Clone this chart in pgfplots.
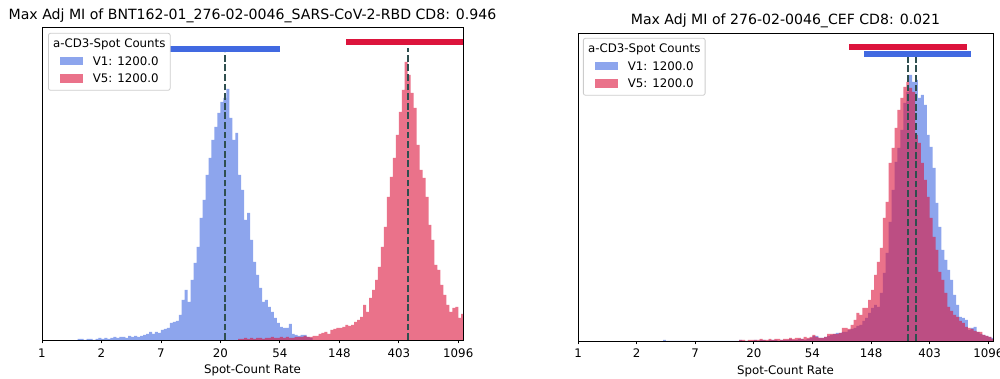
\documentclass[border=0pt]{standalone}
\usepackage{pgfplots}
\pgfplotsset{compat=1.18}
\usepackage{fontspec}
\setmainfont{DejaVu Sans}
\definecolor{royalblue}{RGB}{65,105,225}
\definecolor{crimson}{RGB}{220,20,60}
\definecolor{dslate}{RGB}{47,79,79}
\definecolor{bluepatch}{RGB}{141,165,237}
\definecolor{redpatch}{RGB}{234,114,138}

\pgfplotstableread{
L h
0.60 1
0.65 1
0.70 0
0.75 1
0.80 1
0.85 0
0.90 1
0.95 2
1.00 1
1.05 2
1.10 1
1.15 2
1.20 3
1.25 2
1.30 3
1.35 3
1.40 2
1.45 4
1.50 3
1.55 4
1.60 3
1.65 4
1.70 5
1.75 6
1.80 8
1.85 6
1.90 8
1.95 7
2.00 10
2.05 11
2.10 12
2.15 17
2.20 18
2.25 19
2.30 25
2.35 40
2.40 50
2.45 38
2.50 60
2.55 77
2.60 93
2.65 122
2.70 140
2.75 165
2.80 182
2.85 200
2.90 213
2.95 227
3.00 238
3.05 242
3.10 251
3.15 222
3.20 200
3.25 207
3.30 165
3.35 150
3.40 120
3.45 127
3.50 100
3.55 78
3.60 65
3.65 52
3.70 38
3.75 40
3.80 33
3.85 28
3.90 22
3.95 17
4.00 13
4.05 12
4.10 12
4.15 16
4.20 6
4.25 5
4.30 4
4.35 5
4.40 5
4.45 3
4.50 2
4.55 0
}\leftVone

\pgfplotstableread{
L h
3.30 1
3.35 1
3.40 2
3.45 1
3.50 2
3.55 1
3.60 2
3.65 2
3.70 1
3.75 2
3.80 2
3.85 3
3.90 2
3.95 2
4.00 3
4.05 2
4.10 3
4.15 2
4.20 2
4.25 3
4.30 3
4.35 3
4.40 4
4.45 3
4.50 3
4.55 4
4.60 4
4.65 6
4.70 7
4.75 8
4.80 6
4.85 10
4.90 11
4.95 12
5.00 12
5.05 13
5.10 15
5.15 14
5.20 15
5.25 18
5.30 20
5.35 23
5.40 35
5.45 28
5.50 42
5.55 50
5.60 60
5.65 73
5.70 93
5.75 113
5.80 143
5.85 163
5.90 182
5.95 205
6.00 228
6.05 250
6.10 278
6.15 265
6.20 247
6.25 232
6.30 195
6.35 170
6.40 162
6.45 143
6.50 115
6.55 100
6.60 75
6.65 70
6.70 55
6.75 45
6.80 35
6.85 28
6.90 32
6.95 33
7.00 22
7.05 26
7.10 0
}\leftVfive

\pgfplotstableread{
L h
1.45 1
1.50 0
2.75 1
2.80 0
3.00 1
3.05 0
3.10 1
3.15 1
3.20 0
3.25 1
3.30 1
3.35 1
3.40 0
3.45 1
3.50 1
3.55 1
3.60 2
3.65 1
3.70 1
3.75 2
3.80 2
3.85 1
3.90 2
3.95 3
4.00 5
4.05 5
4.10 3
4.15 3
4.20 4
4.25 5
4.30 6
4.35 7
4.40 8
4.45 8
4.50 9
4.55 9
4.60 11
4.65 12
4.70 13
4.75 15
4.80 16
4.85 20
4.90 23
4.95 28
5.00 33
5.05 36
5.10 34
5.15 48
5.20 68
5.25 88
5.30 119
5.35 151
5.40 179
5.45 193
5.50 211
5.55 238
5.60 249
5.65 266
5.70 259
5.75 261
5.80 243
5.85 246
5.90 236
5.95 206
6.00 194
6.05 173
6.10 138
6.15 114
6.20 91
6.25 81
6.30 71
6.35 61
6.40 46
6.45 36
6.50 24
6.55 23
6.60 21
6.65 11
6.70 13
6.75 14
6.80 9
6.85 7
6.90 6
6.95 5
7.00 4
7.05 3
7.10 0
}\rightVone

\pgfplotstableread{
L h
2.75 1
2.80 1
2.85 0
2.90 1
2.95 1
3.00 1
3.05 1
3.10 2
3.15 1
3.20 1
3.25 2
3.30 1
3.35 2
3.40 2
3.45 1
3.50 2
3.55 2
3.60 3
3.65 2
3.70 3
3.75 3
3.80 2
3.85 4
3.90 3
3.95 4
4.00 6
4.05 4
4.10 3
4.15 3
4.20 4
4.25 7
4.30 7
4.35 7
4.40 7
4.45 8
4.50 13
4.55 13
4.60 12
4.65 16
4.70 21
4.75 28
4.80 26
4.85 33
4.90 33
4.95 41
5.00 51
5.05 66
5.10 79
5.15 93
5.20 123
5.25 139
5.30 178
5.35 193
5.40 213
5.45 231
5.50 243
5.55 254
5.60 259
5.65 253
5.70 249
5.75 206
5.80 198
5.85 178
5.90 161
5.95 144
6.00 123
6.05 104
6.10 91
6.15 69
6.20 61
6.25 48
6.30 34
6.35 30
6.40 26
6.45 24
6.50 20
6.55 18
6.60 14
6.65 13
6.70 12
6.75 10
6.80 9
6.85 9
6.90 6
6.95 5
7.00 4
7.05 2
7.10 0
}\rightVfive

\pgfplotsset{
  panel/.style={
    scale only axis, axis on top, anchor=south west,
    xmin=0, xmax=7.08, ymin=0,
    xtick={0,1,2,3,4,5,6,7},
    xticklabels={1,2,7,20,54,148,403,1096},
    ytick=\empty, tick align=outside, xtick pos=left,
    major tick length=3.5pt,
    every tick/.style={black, line width=0.8pt},
    axis line style={black, line width=0.8pt},
    tick label style={font=\fontsize{11.8}{14}\selectfont},
    label style={font=\fontsize{11.8}{14}\selectfont},
    title style={font=\fontsize{14.1}{17}\selectfont, at={(axis description cs:0.5,1)}, anchor=base},
    xlabel={Spot-Count Rate},
    xlabel style={at={(axis description cs:0.5,0)}, anchor=base, yshift=-34pt},
  },
  hist/.style={const plot mark left, draw=none, fill opacity=0.6},
  med/.style={dslate, line width=1.8pt, dash pattern=on 6.7pt off 2.9pt},
  ci/.style={line width=6pt},
}
\tikzset{
  leg/.style={anchor=north west, draw=black!20, fill=white, rounded corners=2pt,
    line width=0.8pt, inner xsep=4.7pt, inner ysep=2.2pt,
    font=\fontsize{11.8}{17.5}\selectfont},
}
\newcommand{\legbody}{%
  \begin{tabular}{@{}c@{}}a-CD3-Spot Counts\\
  \begin{tabular}[t]{@{}l@{\hspace{10pt}}l@{}}
  \textcolor{bluepatch}{\rule[0.2pt]{23pt}{8.5pt}} & V1: 1200.0\\
  \textcolor{redpatch}{\rule[0.2pt]{23pt}{8.5pt}} & V5: 1200.0
  \end{tabular}\end{tabular}}

\begin{document}
\begin{tikzpicture}
\path[use as bounding box] (0,0) rectangle (1000pt,379pt);

\begin{axis}[panel, at={(42pt,39pt)}, width=421pt, height=313pt, ymax=313,
  title={Max Adj MI of BNT162-01\_276-02-0046\_SARS-CoV-2-RBD CD8: 0.946},
  title style={yshift=1.3pt},
  xticklabel style={anchor=base, yshift=-14pt}]
\addplot[hist, fill=royalblue] table[x=L, y=h] {\leftVone} \closedcycle;
\addplot[hist, fill=crimson] table[x=L, y=h] {\leftVfive} \closedcycle;
\addplot[med] coordinates {(3.08,0) (3.08,288)};
\addplot[med] coordinates {(6.15,0) (6.15,292)};
\addplot[ci, royalblue] coordinates {(2.15,291.3) (4.0,291.3)};
\addplot[ci, crimson] coordinates {(5.12,298) (7.3,298)};
\node[leg] at (rel axis cs:0.0143,0.981) {\legbody};
\end{axis}

\begin{axis}[panel, at={(578pt,38pt)}, width=415pt, height=308pt, ymax=308,
  title={Max Adj MI of 276-02-0046\_CEF CD8: 0.021},
  title style={yshift=2.7pt},
  xticklabel style={anchor=base, yshift=-13.4pt}]
\addplot[hist, fill=royalblue] table[x=L, y=h] {\rightVone} \closedcycle;
\addplot[hist, fill=crimson] table[x=L, y=h] {\rightVfive} \closedcycle;
\addplot[med] coordinates {(5.766,0) (5.766,284.3)};
\addplot[med] coordinates {(5.636,0) (5.636,284.3)};
\addplot[ci, crimson] coordinates {(4.63,294) (6.64,294)};
\addplot[ci, royalblue] coordinates {(4.88,287.3) (6.70,287.3)};
\node[leg] at (rel axis cs:0.012,0.984) {\legbody};
\end{axis}
\end{tikzpicture}
\end{document}
